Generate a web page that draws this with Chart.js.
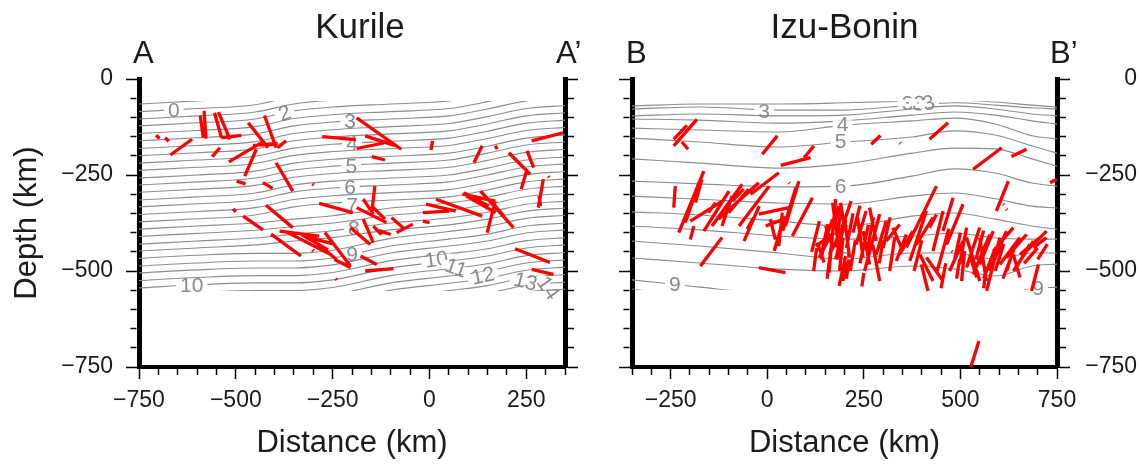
<!DOCTYPE html>
<html>
<head>
<meta charset="utf-8">
<title>Kurile / Izu-Bonin cross sections</title>
<script src="https://cdn.jsdelivr.net/npm/chart.js@4"></script>
<style>
  html, body { margin: 0; padding: 0; background: #fff; }
  #wrap { position: relative; width: 1142px; height: 466px; overflow: hidden; }
  canvas { position: absolute; top: 0; }
  #kurile { left: 0; }
  #izu { left: 590px; }
</style>
</head>
<body>
<div id="wrap">
  <canvas id="kurile" width="590" height="466"></canvas>
  <canvas id="izu" width="552" height="466"></canvas>
</div>
<script>
// ---------------- Kurile section (A - A') ----------------
const KURILE_X_RANGE = [-750, 350];
const KURILE_BAND = [-57, -552];           // depth limits of the contoured field
const KURILE_KNOTS = [-750, -600, -450, -350, -250, -100, 50, 150, 250, 350];
const KURILE_CONTOURS = [
  [-65, -57, -47, -26, -16, -8, 0, 18, 39, 47],
  [-85, -77, -67, -46, -36, -28, -20, -2, 19, 27],
  [-104, -96, -86, -65, -55, -47, -39, -21, 0, 8],
  [-122, -114, -104, -83, -73, -65, -57, -39, -18, -10],
  [-142, -134, -124, -103, -93, -85, -77, -59, -38, -30],
  [-161, -153, -143, -122, -112, -104, -96, -78, -57, -49],
  [-181, -173, -163, -142, -132, -124, -116, -98, -77, -69],
  [-200, -192, -182, -161, -151, -143, -135, -117, -96, -88],
  [-219, -211, -201, -180, -170, -162, -154, -136, -115, -107],
  [-238, -230, -220, -199, -189, -181, -173, -155, -134, -126],
  [-258, -250, -240, -219, -209, -201, -193, -175, -154, -146],
  [-276, -268, -258, -237, -227, -219, -211, -193, -172, -164],
  [-295, -287, -277, -256, -246, -238, -230, -212, -191, -183],
  [-315, -307, -297, -276, -266, -258, -250, -232, -211, -203],
  [-333, -325, -315, -294, -284, -276, -268, -250, -229, -221],
  [-353, -345, -335, -314, -304, -296, -288, -270, -249, -241],
  [-372, -364, -354, -333, -323, -315, -307, -289, -268, -260],
  [-391, -383, -375, -365, -356, -336, -323, -308, -287, -279],
  [-410, -402, -394, -384, -375, -355, -342, -327, -306, -298],
  [-430, -422, -414, -404, -395, -375, -362, -347, -326, -318],
  [-448, -440, -432, -422, -413, -393, -380, -365, -344, -336],
  [-467, -459, -454, -454, -446, -415, -397, -384, -363, -355],
  [-487, -479, -474, -474, -466, -435, -417, -404, -383, -375],
  [-505, -497, -492, -492, -484, -453, -435, -422, -401, -393],
  [-525, -517, -512, -512, -504, -473, -455, -442, -421, -413],
  [-544, -536, -531, -531, -523, -492, -474, -461, -440, -432],
  [-564, -556, -551, -551, -543, -512, -494, -481, -460, -452],
  [-583, -575, -570, -570, -562, -531, -513, -500, -479, -471],
  [-602, -594, -589, -589, -581, -550, -532, -519, -498, -490],
  [-621, -613, -608, -608, -600, -569, -551, -538, -517, -509],
  [-641, -633, -628, -628, -620, -589, -571, -558, -537, -529],
  [-659, -651, -646, -646, -638, -607, -589, -576, -555, -547]
];
// contour label: text, distance, depth, rotation (deg)
const KURILE_LABELS = [
  ['0', -660, -80, 0], ['2', -374, -89, -20], ['3', -205, -110, 0],
  ['4', -200, -168, 0], ['5', -202, -226, 0], ['6', -205, -283, 0],
  ['7', -200, -328, 0], ['8', -195, -388, 0], ['9', -200, -455, 0],
  ['10', -614, -538, 0], ['10', 18, -470, -8], ['11', 69, -492, 20],
  ['12', 138, -512, -12], ['13', 248, -527, 15], ['14', 307, -544, 55]
];
// projected axis segments: x1, depth1, x2, depth2
const KURILE_AXES = [
  [-706, -146, -697, -155], [-683, -153, -673, -162], [-669, -198, -613, -157],
  [-592, -95, -584, -153], [-582, -83, -577, -155], [-555, -88, -537, -153],
  [-545, -86, -515, -157], [-537, -153, -486, -147], [-561, -202, -541, -179],
  [-518, -216, -426, -161], [-468, -114, -417, -179], [-426, -95, -396, -179],
  [-477, -253, -447, -183], [-456, -173, -392, -168], [-392, -179, -370, -161],
  [-498, -266, -475, -273], [-430, -270, -405, -285], [-396, -218, -353, -292],
  [-302, -273, -299, -276], [-507, -338, -500, -346], [-481, -357, -430, -393],
  [-422, -329, -353, -387], [-409, -404, -332, -461], [-387, -396, -285, -409],
  [-366, -400, -255, -457], [-323, -409, -247, -430], [-285, -324, -198, -348],
  [-270, -400, -204, -487], [-245, -470, -204, -491], [-302, -445, -299, -448],
  [-242, -520, -239, -523], [-204, -387, -153, -431], [-178, -461, -136, -483],
  [-166, -500, -93, -494], [-188, -101, -73, -183], [-166, -148, -90, -173],
  [-188, -181, -115, -166], [-149, -202, -115, -211], [-277, -150, -190, -158],
  [8, -161, 4, -185], [136, -174, 115, -218], [170, -174, 175, -183],
  [205, -192, 260, -248], [252, -187, 269, -231], [264, -161, 345, -140],
  [252, -235, 237, -287], [307, -253, 309, -256], [294, -261, 281, -335],
  [-141, -279, -149, -348], [-188, -335, -111, -374], [-171, -313, -145, -352],
  [-171, -365, -145, -426], [-145, -383, -124, -405], [-130, -395, -100, -405],
  [-98, -361, -64, -391], [-85, -400, -43, -378], [-17, -370, 0, -374],
  [-17, -348, 51, -344], [-9, -326, 68, -344], [17, -313, 136, -357],
  [85, -300, 170, -318], [89, -296, 153, -331], [132, -292, 217, -387],
  [170, -318, 149, -400], [162, -322, 192, -357], [221, -442, 311, -478],
  [264, -496, 320, -509], [283, -305, 287, -331], [95, -305, 171, -348],
  [-330, -405, -262, -445], [-300, -420, -240, -470], [-150, -330, -115, -365]
];

// ---------------- Izu-Bonin section (B - B') ----------------
const IZU_X_RANGE = [-350, 750];
const IZU_BAND = [-58, -549];
const IZU_KNOTS = [-350, -175, 30, 200, 375, 485, 590, 685, 750];
const IZU_CONTOURS = [
  [-70, -65, -65, -62, -57, -55, -60, -68, -73],
  [-78, -73, -81, -81, -68, -62, -68, -75, -78],
  [-96, -91, -96, -94, -78, -70, -78, -91, -96],
  [-104, -107, -115, -109, -94, -86, -94, -109, -117],
  [-128, -133, -138, -120, -109, -102, -117, -148, -156],
  [-154, -164, -177, -164, -151, -135, -146, -174, -193],
  [-208, -219, -232, -221, -193, -180, -182, -208, -227],
  [-266, -273, -281, -279, -253, -234, -245, -271, -279],
  [-305, -313, -323, -326, -305, -297, -312, -331, -336],
  [-346, -354, -370, -383, -357, -349, -365, -383, -391],
  [-383, -393, -409, -417, -409, -401, -414, -417, -417],
  [-422, -435, -453, -469, -453, -453, -469, -453, -453],
  [-466, -479, -495, -500, -487, -495, -513, -487, -482],
  [-523, -542, -560, -562, -562, -565, -565, -546, -542],
  [-547, -568, -580, -585, -585, -585, -580, -570, -565]
];
const IZU_LABELS = [
  ['3', -8, -83, 0], ['3', 363, -62, 0], ['3', 392, -64, 10], ['3', 418, -62, -15],
  ['4', 195, -118, 0], ['5', 190, -162, 0], ['6', 190, -279, 0],
  ['8', 200, -469, 0], ['9', -239, -534, 0], ['9', 701, -545, 0]
];
const IZU_AXES = [
  [-242, -174, -182, -105], [-242, -157, -208, -121], [-221, -164, -205, -183],
  [-13, -196, 26, -148], [35, -225, 112, -205], [95, -205, 121, -174],
  [-242, -335, -238, -279], [-229, -400, -164, -240], [-212, -374, -177, -270],
  [-199, -418, -190, -383], [-199, -370, -108, -313], [-186, -322, -169, -261],
  [-173, -487, -117, -413], [-143, -383, -65, -274], [-126, -365, -22, -270],
  [-117, -383, -91, -305], [-100, -348, -48, -287], [-43, -300, 30, -244],
  [-52, -391, -35, -361], [-22, -352, 56, -335], [-4, -383, 43, -365],
  [30, -435, 39, -348], [47, -383, 82, -266], [65, -409, 117, -309],
  [56, -270, 58, -272], [-22, -491, 47, -504], [8, -365, 21, -418],
  [-152, -348, -134, -322], [-91, -318, -61, -287], [40, -396, 74, -283],
  [-164, -396, -99, -292], [-60, -422, -21, -331], [-73, -383, 5, -279],
  [18, -448, 44, -357],
  [130, -426, 147, -478], [143, -444, 169, -365], [160, -504, 177, -313],
  [169, -322, 181, -409], [177, -470, 203, -365], [186, -539, 203, -461],
  [190, -322, 199, -383], [151, -383, 169, -435],
  [115, -450, 135, -370], [120, -500, 128, -440], [185, -470, 195, -380],
  [205, -520, 212, -470], [175, -380, 185, -330],
  [170, -326, 183, -413], [126, -435, 174, -400], [135, -465, 161, -413],
  [161, -457, 204, -370], [178, -439, 191, -335], [187, -500, 196, -413],
  [191, -396, 217, -318], [200, -361, 213, -465], [230, -431, 256, -344],
  [234, -361, 248, -465], [248, -396, 265, -483], [252, -500, 291, -352],
  [265, -335, 282, -422], [273, -431, 291, -526], [282, -457, 308, -370],
  [308, -422, 343, -379], [317, -500, 330, -413], [325, -387, 351, -448],
  [334, -474, 360, -405], [343, -457, 377, -396], [360, -439, 438, -279],
  [369, -474, 412, -344], [386, -431, 429, -361], [395, -457, 429, -526],
  [399, -483, 416, -552], [412, -465, 455, -526], [420, -387, 438, -353],
  [429, -448, 455, -344], [455, -396, 481, -309], [464, -431, 507, -326],
  [472, -500, 507, -422], [477, -448, 479, -450], [498, -483, 516, -387],
  [503, -526, 511, -448], [516, -491, 550, -387], [524, -457, 542, -517],
  [533, -509, 576, -405], [550, -483, 585, -396], [568, -552, 602, -413],
  [576, -500, 619, -396], [585, -448, 637, -387], [593, -344, 624, -266],
  [611, -326, 613, -328], [619, -339, 621, -341], [602, -483, 654, -413],
  [619, -465, 671, -405], [637, -500, 689, -422], [654, -457, 706, -413],
  [671, -448, 723, -396], [689, -439, 723, -413], [684, -552, 702, -483],
  [732, -270, 749, -261], [196, -526, 204, -474], [144, -439, 157, -378],
  [550, -413, 567, -526], [637, -457, 654, -517], [516, -413, 550, -526],
  [140, -470, 152, -400], [155, -520, 165, -440], [205, -440, 222, -350],
  [215, -500, 228, -420], [240, -480, 262, -380], [258, -450, 275, -360],
  [222, -400, 240, -330], [290, -480, 300, -420], [300, -440, 318, -360],
  [245, -540, 250, -505], [380, -500, 400, -420], [440, -500, 470, -390],
  [450, -545, 462, -480], [485, -470, 500, -400], [540, -470, 560, -395],
  [560, -520, 590, -440], [590, -500, 612, -430], [610, -520, 640, -440],
  [645, -490, 680, -430], [665, -480, 700, -440], [700, -470, 725, -430],
  [490, -520, 498, -470], [560, -545, 566, -500], [620, -500, 632, -460],
  [269, -170, 293, -147], [343, -166, 345, -168], [420, -157, 468, -114],
  [533, -235, 607, -179], [632, -202, 671, -183], [527, -750, 548, -682]
];

const DEPTH_RANGE = [-750, 0];
const MAJOR_STEP = 250;
const MINOR_STEP = 50;

// ---------------- drawing ----------------
const FONT = "'Liberation Sans', Arial, Helvetica, sans-serif";
const INK = '#1b1b1b';
const CONTOUR_GREY = '#8c8c8c';
const LABEL_GREY = '#8a8a8a';
const AXIS_RED = '#ff0000';
const MINOR_LEN = 6;

Chart.defaults.font.family = FONT;
Chart.defaults.color = INK;

function tickText(v) {
  if (v % MAJOR_STEP !== 0) return '';
  return v < 0 ? '\u2212' + Math.abs(v) : String(v);
}

// minor ticks are drawn shorter by dashing the tick line
function tickDash(position, tl, half) {
  return (ctx) => {
    if (ctx.tick && ctx.tick.value % MAJOR_STEP === 0) return [];
    if (position === 'left') return [0, tl - half - MINOR_LEN, MINOR_LEN, 200];
    return [MINOR_LEN, 200];
  };
}

function drawContourLabels(chart, labels) {
  const { ctx, scales: { x, y } } = chart;
  ctx.save();
  ctx.font = '21px ' + FONT;
  ctx.textAlign = 'center';
  ctx.textBaseline = 'middle';
  for (const [text, lx, ld, rot] of labels) {
    const px = x.getPixelForValue(lx);
    const py = y.getPixelForValue(ld);
    const w = ctx.measureText(text).width;
    ctx.save();
    ctx.translate(px, py);
    ctx.rotate(rot * Math.PI / 180);
    ctx.fillStyle = '#fff';
    ctx.fillRect(-w / 2 - 4, -4, w + 8, 8);
    ctx.fillStyle = LABEL_GREY;
    ctx.fillText(text, 0, 1);
    ctx.restore();
  }
  ctx.restore();
}

const contourBand = {
  id: 'contourBand',
  beforeDatasetDraw(chart, args, opts) {
    const { ctx, chartArea: a, scales: { y } } = chart;
    if (args.index > 0) {
      const top = y.getPixelForValue(opts.band[0]);
      const bot = y.getPixelForValue(opts.band[1]);
      ctx.save();
      ctx.beginPath();
      ctx.rect(a.left, top, a.right - a.left, bot - top);
      ctx.clip();
    } else {
      drawContourLabels(chart, opts.labels);
    }
  },
  afterDatasetDraw(chart, args) {
    if (args.index > 0) chart.ctx.restore();
  }
};

const caption = {
  id: 'caption',
  afterDraw(chart, args, o) {
    const { ctx, chartArea: a } = chart;
    ctx.save();
    ctx.fillStyle = INK;
    ctx.textBaseline = 'alphabetic';
    ctx.font = '35px ' + FONT;
    ctx.textAlign = 'center';
    ctx.fillText(o.title, (a.left + a.right) / 2 + o.titleShift, 38);
    ctx.font = '31px ' + FONT;
    ctx.textAlign = 'left';
    ctx.fillText(o.start, a.left + o.startShift, 63);
    ctx.fillText(o.end, a.right + o.endShift, 63);
    ctx.restore();
  }
};

function segmentPoints(list) {
  const pts = [];
  for (const [x1, d1, x2, d2] of list) {
    pts.push({ x: x1, y: d1 }, { x: x2, y: d2 }, { x: x2, y: null });
  }
  return pts;
}

function buildPanel(canvas, cfg) {
  const datasets = [{
    data: segmentPoints(cfg.axes),
    borderColor: AXIS_RED,
    borderWidth: 3.3,
    borderCapStyle: 'butt',
    pointRadius: 0,
    spanGaps: false,
    tension: 0
  }];
  for (const line of cfg.contours) {
    datasets.push({
      data: cfg.knots.map((k, i) => ({ x: k, y: line[i] })),
      borderColor: CONTOUR_GREY,
      borderWidth: 1.1,
      pointRadius: 0,
      cubicInterpolationMode: 'monotone'
    });
  }
  const gridBase = { drawOnChartArea: false, tickColor: '#000', tickWidth: 1.5 };
  const yLeft = {
    type: 'linear', position: 'left', min: DEPTH_RANGE[0], max: DEPTH_RANGE[1],
    ticks: {
      stepSize: MINOR_STEP, autoSkip: false, padding: 13,
      font: { size: 23 }, color: INK,
      callback: cfg.labelsLeft ? tickText : () => ''
    },
    grid: Object.assign({}, gridBase, { tickLength: 13, tickBorderDash: tickDash('left', 13, 2.5) }),
    border: { display: true, width: 5, color: '#000' },
    title: cfg.labelsLeft ? {
      display: true, text: 'Depth (km)', font: { size: 31 }, color: INK, padding: { top: 9, bottom: 0 }
    } : { display: false },
    afterFit(s) { s.width = cfg.leftWidth; }
  };
  const yRight = {
    type: 'linear', position: 'right', min: DEPTH_RANGE[0], max: DEPTH_RANGE[1],
    ticks: {
      stepSize: MINOR_STEP, autoSkip: false, crossAlign: 'far',
      font: { size: 23 }, color: INK,
      callback: cfg.labelsLeft ? () => '' : tickText
    },
    grid: Object.assign({}, gridBase, { tickLength: 13, tickBorderDash: tickDash('right', 13, 2.5) }),
    border: { display: true, width: 5, color: '#000' },
    afterFit(s) { s.width = cfg.rightWidth; }
  };
  const xAxis = {
    type: 'linear', position: 'bottom', min: cfg.xRange[0], max: cfg.xRange[1],
    ticks: {
      stepSize: MINOR_STEP, autoSkip: false, maxRotation: 0, minRotation: 0, padding: 8,
      font: { size: 23 }, color: INK, callback: tickText
    },
    grid: Object.assign({}, gridBase, { tickLength: 12, tickBorderDash: tickDash('bottom', 12, 2) }),
    border: { display: true, width: 4, color: '#000' },
    title: { display: true, text: 'Distance (km)', font: { size: 31 }, color: INK, padding: { top: 0, bottom: 4 } },
    afterFit(s) { s.height = 99; }
  };

  return new Chart(canvas, {
    type: 'line',
    data: { datasets },
    options: {
      responsive: false,
      devicePixelRatio: 1,
      animation: false,
      events: [],
      layout: { padding: { top: 79, left: 0, right: cfg.padRight, bottom: 0 } },
      scales: { x: xAxis, y: yLeft, yR: yRight },
      plugins: {
        legend: { display: false },
        tooltip: { enabled: false },
        contourBand: { band: cfg.band, labels: cfg.labels },
        caption: cfg.caption
      }
    },
    plugins: [contourBand, caption]
  });
}

buildPanel(document.getElementById('kurile'), {
  xRange: KURILE_X_RANGE, band: KURILE_BAND, knots: KURILE_KNOTS,
  contours: KURILE_CONTOURS, labels: KURILE_LABELS, axes: KURILE_AXES,
  labelsLeft: true, leftWidth: 139, rightWidth: 25, padRight: 0,
  caption: { title: 'Kurile', titleShift: 8, start: 'A', startShift: -6, end: 'A\u2019', endShift: -9 }
});

buildPanel(document.getElementById('izu'), {
  xRange: IZU_X_RANGE, band: IZU_BAND, knots: IZU_KNOTS,
  contours: IZU_CONTOURS, labels: IZU_LABELS, axes: IZU_AXES,
  labelsLeft: false, leftWidth: 42, rightWidth: 80, padRight: 5,
  caption: { title: 'Izu-Bonin', titleShift: 0, start: 'B', startShift: -6, end: 'B\u2019', endShift: -7 }
});
</script>
</body>
</html>
